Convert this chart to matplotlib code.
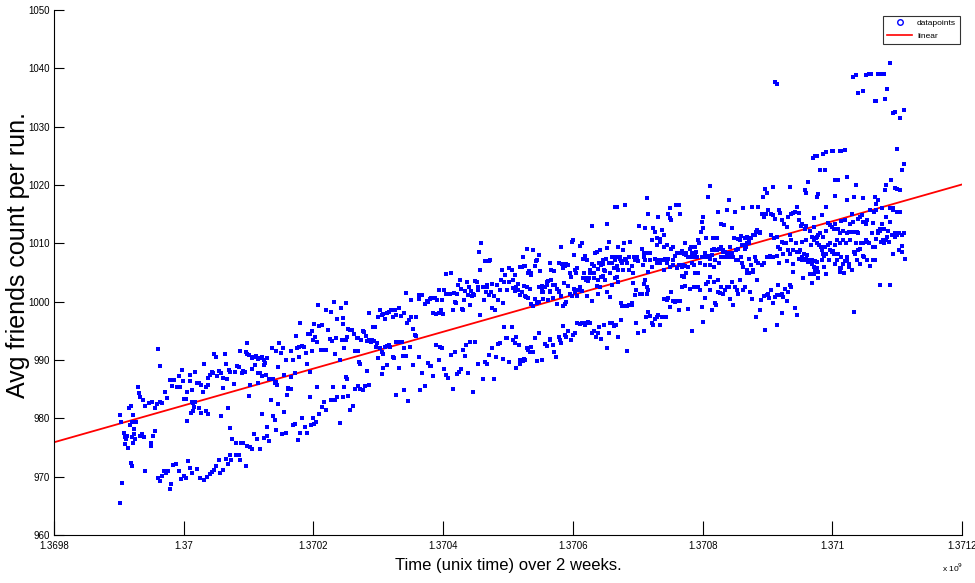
import numpy as np
import matplotlib
matplotlib.use("Agg")
import matplotlib.pyplot as plt
from matplotlib.lines import Line2D
from matplotlib.ticker import FixedLocator, FuncFormatter

# time is stored in kiloseconds after 1.3698e9 (unix time), values are avg friends count
T0 = 1.3698e9

# day 1-2 (1.36990e9 .. 1.37010e9)
seg1 = [(101, 980.5), (102, 965.5), (105, 968.9), (104, 979.4), (108, 977.5), (110, 976.8),
        (111, 976.5), (109, 975.6), (113, 976.9), (114, 975.0), (115, 981.8), (118, 982.2),
        (117, 978.8), (120, 979.3), (122, 980.6), (123, 978.2), (124, 977.4), (121, 976.8),
        (125, 976.5), (127, 979.4), (129, 985.3), (131, 984.4), (133, 983.6), (137, 983.2),
        (140, 982.2), (132, 977.0), (136, 977.3), (139, 976.8), (118, 972.3), (120, 971.8),
        (122, 975.7), (141, 970.9), (146, 982.6), (151, 982.8), (155, 981.7), (159, 982.5),
        (163, 982.8), (167, 982.7), (152, 977.0), (156, 977.9), (150, 975.3), (149, 975.7),
        (160, 991.9), (164, 988.9), (160, 969.7), (163, 969.2), (167, 970.1), (169, 971.0),
        (172, 970.6), (175, 971.0), (179, 967.9), (171, 984.6), (174, 983.5), (179, 986.6),
        (182, 985.6), (185, 986.6), (189, 985.4), (192, 987.2), (194, 985.3), (197, 988.3),
        (199, 986.4), (201, 983.4), (204, 983.3), (205, 984.5), (209, 987.5), (210, 986.4),
        (212, 984.9), (181, 968.8), (184, 972.0), (188, 972.2), (192, 970.9), (196, 969.6),
        (200, 970.2), (203, 969.8), (207, 972.7), (209, 971.5), (212, 970.7), (205, 979.5),
        (211, 981.0), (214, 981.3), (215, 982.6), (218, 982.8), (221, 986.1), (218, 988.0),
        (223, 986.1), (226, 985.7), (229, 984.5), (231, 989.3), (234, 985.3), (237, 986.9),
        (238, 985.7), (240, 987.4), (243, 988.0), (245, 987.8), (246, 991.0), (249, 990.5),
        (251, 987.3), (254, 988.2), (258, 987.8), (260, 986.9), (261, 985.2), (264, 991.0),
        (265, 989.3), (267, 986.7), (270, 988.3), (272, 987.9), (277, 985.9), (279, 988.0),
        (282, 989.0), (285, 988.8), (287, 991.6), (290, 987.7), (291, 988.2), (294, 988.0),
        (296, 991.3), (298, 991.0), (300, 990.9), (297, 993.0), (220, 971.4), (225, 969.7),
        (231, 969.5), (236, 970.0), (240, 970.4), (243, 970.8), (247, 971.1), (250, 971.9),
        (254, 972.8), (256, 970.6), (260, 971.1), (265, 973.1), (268, 972.2), (272, 973.7),
        (273, 972.9), (281, 973.8), (285, 973.7), (287, 972.8), (296, 971.9), (257, 980.4),
        (268, 981.7), (272, 978.3), (275, 976.4), (281, 975.7), (288, 975.7), (291, 975.7),
        (298, 975.3), (300, 983.9), (223, 981.7), (226, 980.9), (234, 981.3), (238, 980.7),
        (212, 982.8), (216, 982.0)]

# day 3-4
seg2 = [(305, 990.5), (306, 990.4), (310, 990.5), (312, 990.7), (314, 990.1), (318, 990.4),
        (320, 990.5), (323, 990.0), (324, 989.1), (325, 989.5), (328, 990.4), (306, 988.5),
        (310, 989.1), (314, 987.8), (318, 987.7), (320, 987.2), (327, 987.5), (315, 986.1),
        (302, 985.7), (332, 986.8), (336, 992.0), (338, 986.8), (340, 986.0), (342, 986.0),
        (343, 986.3), (342, 991.6), (345, 988.8), (347, 992.9), (350, 991.2), (353, 992.1),
        (355, 987.4), (357, 990.0), (360, 985.2), (364, 985.1), (365, 987.1), (366, 991.6),
        (369, 990.0), (372, 987.8), (373, 994.1), (374, 992.1), (377, 992.2), (378, 990.5),
        (380, 996.4), (383, 992.4), (386, 992.2), (389, 991.2), (390, 989.4), (392, 994.4),
        (394, 988.0), (395, 994.4), (397, 995.0), (398, 991.6), (400, 993.5), (401, 996.1),
        (402, 994.0), (406, 993.1), (407, 999.4), (409, 995.8), (413, 996.0), (412, 991.8),
        (415, 991.8), (418, 991.8), (419, 991.8), (420, 998.5), (423, 995.2), (425, 993.6),
        (427, 998.2), (428, 993.3), (431, 1000.0), (433, 991.1), (435, 993.7), (437, 997.1),
        (441, 990.0), (442, 999.0), (444, 993.5), (445, 997.2), (446, 996.1), (447, 992.1),
        (450, 999.8), (450, 993.4), (452, 994.0), (454, 995.4), (456, 995.2), (459, 995.2),
        (462, 994.5), (464, 991.6), (467, 993.7), (468, 991.6), (469, 993.8), (471, 989.7),
        (472, 989.4), (474, 993.5), (476, 995.0), (478, 994.8), (481, 994.1), (482, 993.3),
        (485, 993.5), (486, 998.0), (488, 993.1), (491, 993.4), (492, 995.7), (493, 993.3),
        (495, 995.7), (497, 992.2), (498, 992.9), (499, 990.3), (500, 997.4), (502, 998.6),
        (503, 992.0), (320, 980.7), (328, 978.5), (334, 983.2), (338, 980.4), (341, 979.7),
        (342, 978.0), (344, 985.7), (346, 982.5), (351, 977.4), (354, 981.1), (358, 977.5),
        (359, 984.0), (361, 985.1), (365, 985.1), (368, 978.8), (371, 979.0), (376, 976.3),
        (379, 977.5), (382, 980.0), (387, 978.5), (390, 977.5), (394, 983.6), (396, 978.8),
        (399, 980.1), (401, 979.1), (404, 979.4), (406, 985.3), (409, 980.8), (413, 982.0),
        (416, 982.8), (419, 981.4), (427, 983.2), (430, 985.3), (433, 983.2), (437, 983.7),
        (441, 979.2), (445, 983.7), (447, 985.4), (450, 987.1), (452, 986.8), (454, 983.8),
        (457, 981.5), (461, 982.1), (464, 985.1), (468, 985.5), (472, 985.1), (476, 984.8),
        (480, 985.5), (482, 988.1), (486, 985.7), (309, 977.3), (313, 976.4), (317, 974.8),
        (324, 976.7), (328, 977.0), (332, 976.1), (302, 975.1), (306, 974.8)]

# day 5-6
seg3 = [(505, 997.7), (508, 997.9), (510, 997.1), (514, 998.0), (517, 998.3), (519, 998.5),
        (522, 997.4), (526, 998.6), (528, 997.7), (532, 998.9), (535, 997.5), (539, 998.1),
        (543, 1001.5), (545, 996.4), (548, 996.9), (550, 1000.3), (551, 997.3), (554, 995.4),
        (558, 997.4), (562, 1000.4), (563, 1001.1), (565, 1001.1), (568, 1001.1), (572, 999.6),
        (575, 1000.1), (577, 1000.0), (579, 1000.5), (581, 1000.7), (584, 998.0), (585, 1000.6),
        (587, 1000.7), (589, 997.9), (590, 1000.3), (593, 998.1), (594, 1002.0), (596, 998.6),
        (598, 1000.3), (599, 997.9), (601, 1002.0), (604, 1001.4), (605, 1004.7), (608, 1001.3),
        (611, 1001.3), (612, 1004.9), (615, 998.6), (616, 1001.5), (618, 1000.0), (620, 999.8),
        (622, 1001.3), (623, 1002.9), (626, 1003.7), (627, 1002.2), (629, 998.7), (631, 998.6),
        (632, 1000.3), (634, 1001.9), (636, 1003.4), (639, 1001.1), (640, 1002.5), (641, 999.4),
        (643, 1001.9), (644, 1000.9), (646, 1001.4), (648, 1001.1), (649, 1003.6), (652, 1003.3),
        (653, 1002.6), (654, 1002.0), (656, 1008.6), (657, 1005.5), (659, 1010.1), (661, 1002.6),
        (663, 1000.3), (665, 1006.9), (666, 1001.7), (667, 1002.6), (668, 1002.9), (670, 1006.9),
        (671, 1001.1), (672, 1007.1), (673, 1001.7), (675, 998.9), (676, 1003.0), (678, 1001.0),
        (680, 998.5), (683, 1002.9), (685, 1000.3), (687, 1002.0), (689, 1003.7), (691, 1005.4),
        (692, 999.7), (694, 1003.4), (695, 1004.6), (698, 1002.0), (701, 1005.7), (702, 1003.4),
        (505, 991.3), (508, 991.0), (510, 992.3), (514, 992.4), (517, 992.6), (518, 992.3),
        (522, 990.6), (524, 990.3), (527, 993.1), (531, 993.1), (536, 993.1), (538, 990.7),
        (540, 992.0), (543, 990.7), (549, 992.3), (554, 989.1), (557, 994.3), (558, 994.1),
        (562, 990.6), (568, 987.8), (572, 985.5), (576, 989.5), (579, 988.9), (581, 988.9),
        (585, 987.3), (589, 992.6), (593, 990.0), (595, 992.3), (598, 992.1), (601, 988.4),
        (604, 987.4), (608, 986.9), (612, 990.9), (615, 985.1), (618, 991.3), (622, 987.6),
        (625, 988.0), (627, 988.4), (630, 991.7), (633, 990.7), (635, 992.6), (639, 987.8),
        (641, 993.1), (646, 984.6), (649, 993.1), (653, 989.4), (657, 997.7), (661, 986.7),
        (665, 989.7), (667, 989.4), (670, 990.9), (675, 992.0), (678, 986.7), (682, 990.6),
        (685, 992.7), (688, 992.9), (692, 990.1), (694, 995.6), (697, 993.7), (699, 993.7),
        (702, 989.7), (505, 987.6), (508, 988.6), (513, 989.1), (528, 984.0), (532, 988.6),
        (539, 984.9), (546, 982.9), (564, 984.9)]

# day 7-8
seg4 = [(706, 1005.4), (708, 1003.8), (711, 1004.6), (713, 1002.0), (716, 1002.0), (718, 1005.9),
        (721, 1005.9), (723, 1007.7), (725, 1006.1), (726, 1006.1), (728, 1000.8), (730, 1009.0),
        (731, 1004.9), (733, 1005.2), (735, 1004.6), (736, 1004.9), (739, 1008.8), (742, 1006.1),
        (743, 1006.9), (744, 1007.2), (747, 1008.0), (748, 1002.5), (750, 1005.2), (752, 1002.7),
        (753, 1002.0), (754, 1001.7), (757, 1002.5), (760, 1003.4), (762, 1003.6), (764, 1006.6),
        (765, 1001.9), (767, 1005.4), (769, 1002.9), (771, 1005.2), (772, 1002.9), (775, 1002.1),
        (778, 1006.6), (779, 1001.9), (781, 1009.3), (783, 1006.5), (785, 1005.7), (786, 1003.2),
        (788, 1006.1), (790, 1006.5), (793, 1006.3), (795, 1004.9), (797, 1004.3), (798, 1010.3),
        (800, 1010.6), (802, 1008.0), (803, 1005.4), (805, 1004.9), (807, 1005.7), (808, 1002.0),
        (811, 1009.6), (814, 1010.1), (815, 1007.3), (817, 1004.9), (819, 1007.8), (820, 1003.7),
        (821, 1004.0), (822, 1007.2), (824, 1003.6), (825, 1004.0), (826, 1005.4), (829, 1006.5),
        (830, 1013.0), (832, 1004.9), (833, 1006.1), (834, 1008.3), (837, 1008.6), (838, 1003.7),
        (839, 1005.6), (841, 1006.6), (842, 1008.9), (843, 1006.3), (844, 1004.3), (846, 1006.5),
        (847, 1007.2), (848, 1005.4), (850, 1005.2), (851, 1007.4), (852, 1013.3), (853, 1009.2),
        (855, 1010.3), (856, 1006.7), (857, 1004.9), (860, 1007.7), (861, 1006.6), (863, 1005.7),
        (865, 1007.2), (866, 1007.7), (868, 1006.1), (869, 1005.4), (870, 1009.3), (872, 1007.7),
        (873, 1007.4), (874, 1007.0), (875, 1006.6), (877, 1008.8), (878, 1005.4), (879, 1010.0),
        (880, 1007.4), (882, 1007.2), (883, 1006.7), (886, 1005.4), (887, 1007.7), (888, 1010.3),
        (891, 1006.1), (892, 1004.9), (894, 1007.7), (896, 1007.2), (897, 1007.2), (899, 1007.6),
        (901, 1007.0), (902, 1012.9), (865, 1016.3), (868, 1016.2), (880, 1016.5),
        (707, 1002.3), (711, 1001.9), (713, 1002.6), (716, 1003.0), (718, 1001.2), (721, 1001.6),
        (724, 1002.7), (726, 1000.9), (729, 1002.6), (731, 1000.6), (734, 1002.1), (736, 999.6),
        (739, 999.3), (742, 1000.4), (744, 999.7), (748, 1000.0), (752, 1001.6), (754, 1000.4),
        (760, 1002.9), (762, 1000.3), (765, 1001.7), (767, 1003.7), (770, 1000.6), (775, 999.6),
        (778, 1001.7), (781, 1000.9), (785, 999.2), (788, 999.6), (790, 1000.0), (793, 1002.7),
        (796, 1001.4), (798, 1000.9), (801, 1002.1), (803, 1001.6), (806, 1000.9), (811, 1002.6),
        (814, 1001.9), (816, 1004.0), (820, 1003.8), (822, 1000.9), (826, 1005.0), (829, 1000.2),
        (833, 1004.0), (837, 1002.7), (839, 1001.4), (842, 1002.6), (846, 1004.4), (850, 1003.7),
        (853, 1001.7), (857, 1000.8), (861, 1002.9), (865, 1004.0), (868, 1004.2), (870, 1003.4),
        (874, 999.7), (875, 999.3), (879, 999.3), (883, 999.2), (887, 999.4), (891, 999.7),
        (893, 1003.2), (896, 1001.2), (898, 1002.0),
        (706, 995.7), (708, 993.4), (711, 993.0), (713, 993.9), (717, 992.6), (718, 990.0),
        (723, 989.9), (725, 990.1), (726, 990.0), (729, 992.0), (731, 991.8), (734, 991.4),
        (736, 992.3), (739, 991.4), (742, 993.7), (744, 989.8), (748, 994.6), (752, 990.0),
        (757, 992.8), (760, 992.4), (764, 993.4), (765, 993.6), (769, 992.6), (771, 991.4),
        (774, 990.6), (778, 993.9), (780, 993.4), (781, 993.0), (785, 995.8), (788, 994.3),
        (790, 993.9), (793, 994.9), (797, 993.4), (800, 994.3), (803, 994.7), (807, 996.3),
        (811, 996.2), (814, 996.4), (816, 996.3), (819, 996.0), (821, 996.3), (824, 996.6),
        (826, 996.3), (829, 994.7), (832, 995.0), (836, 994.0), (838, 994.6), (841, 995.6),
        (844, 993.6), (848, 996.0), (852, 992.0), (855, 994.6), (857, 996.3), (861, 996.3),
        (863, 995.8), (866, 996.0), (870, 994.0), (874, 996.9), (880, 999.2), (884, 991.6),
        (891, 999.4), (898, 996.3), (901, 994.6), (713, 988.6), (718, 989.4)]

# day 9-11
seg5 = [(909, 1008.3), (911, 1012.6), (914, 1017.7), (916, 1015.1), (919, 1008.3), (922, 1010.6),
        (924, 1012.6), (927, 1012.0), (929, 1010.9), (930, 1009.7), (932, 1014.6), (934, 1010.3),
        (935, 1010.7), (937, 1012.3), (940, 1011.4), (941, 1009.4), (942, 1007.4), (944, 1007.1),
        (945, 1009.8), (947, 1015.1), (949, 1016.0), (950, 1014.3), (951, 1014.0), (952, 1009.0),
        (954, 1007.1), (955, 1009.4), (958, 1007.8), (959, 1016.6), (961, 1008.3), (963, 1016.6),
        (965, 1015.0), (966, 1008.3), (969, 1008.7), (971, 1008.2), (973, 1010.0), (974, 1008.3),
        (977, 1007.7), (980, 1009.1), (982, 1009.4), (983, 1008.3), (986, 1007.7), (988, 1009.4),
        (990, 1008.6), (991, 1007.7), (993, 1010.6), (995, 1010.1), (997, 1012.0), (999, 1013.7),
        (1000, 1014.6), (1001, 1012.6), (1004, 1008.3), (1006, 1011.0), (1009, 1018.0),
        (1011, 1019.8), (1012, 1007.4), (1014, 1008.0), (1016, 1011.0), (1018, 1009.0),
        (1020, 1008.9), (1022, 1011.0), (1024, 1015.4), (1026, 1009.1), (1028, 1009.4),
        (1029, 1013.4), (1031, 1008.6), (1033, 1013.1), (1035, 1008.6), (1037, 1015.7),
        (1038, 1008.0), (1040, 1017.4), (1041, 1008.4), (1043, 1009.4), (1045, 1012.6),
        (1046, 1008.3), (1048, 1011.0), (1050, 1015.4), (1052, 1008.9), (1054, 1009.1),
        (1055, 1010.7), (1057, 1010.6), (1059, 1011.3), (1060, 1009.7), (1062, 1016.0),
        (1064, 1009.7), (1065, 1010.9), (1067, 1009.4), (1068, 1010.1), (1069, 1011.1),
        (1071, 1010.7), (1072, 1010.0), (1074, 1010.9), (1076, 1016.3), (1077, 1011.4),
        (1081, 1011.4), (1082, 1012.0), (1084, 1012.3), (1086, 1016.2), (1088, 1012.0),
        (1089, 1011.8), (1091, 1015.0), (1093, 1018.0), (1095, 1014.6), (1096, 1019.3),
        (1098, 1015.1), (1100, 1018.7), (1101, 1015.7), (1103, 1007.7),
        (906, 1009.1), (908, 1006.3), (909, 1007.7), (911, 1007.1), (914, 1008.3), (916, 1005.1),
        (919, 1007.1), (922, 1005.9), (927, 1007.4), (930, 1006.6), (932, 1007.1), (935, 1006.6),
        (937, 1007.1), (940, 1005.4), (942, 1007.1), (945, 1006.6), (947, 1007.4), (950, 1006.0),
        (955, 1006.3), (960, 1005.7), (963, 1006.3), (965, 1008.3), (968, 1006.0), (969, 1004.4),
        (970, 1006.3), (973, 1006.1), (975, 1008.0), (978, 1006.0), (981, 1007.7), (983, 1006.6),
        (986, 1006.3), (988, 1007.8), (991, 1007.6), (993, 1004.9), (996, 1006.6), (999, 1007.7),
        (1004, 1006.3), (1005, 1007.7), (1009, 1007.8), (1011, 1006.3), (1014, 1008.9),
        (1017, 1006.0), (1019, 1007.1), (1022, 1008.9), (1026, 1006.6), (1029, 1007.7),
        (1032, 1008.9), (1035, 1007.7), (1040, 1007.7), (1042, 1008.3), (1045, 1008.0),
        (1047, 1007.7), (1052, 1007.1), (1055, 1007.1), (1059, 1007.7), (1060, 1006.6),
        (1063, 1006.0), (1065, 1009.1), (1068, 1005.4), (1071, 1007.4), (1074, 1006.3),
        (1078, 1005.4), (1082, 1006.9), (1086, 1006.7), (1091, 1006.3), (1094, 1006.6),
        (1099, 1007.7),
        (909, 1003.1), (911, 1003.7), (914, 1001.4), (916, 1002.0), (913, 997.4), (916, 998.3),
        (919, 997.5), (922, 996.3), (924, 996.0), (927, 997.0), (929, 997.4), (932, 997.7),
        (934, 996.0), (937, 997.4), (940, 1000.4), (942, 997.4), (944, 997.3), (945, 1000.3),
        (947, 1000.6), (950, 999.1), (952, 1001.7), (955, 1000.2), (958, 1000.0), (960, 1000.2),
        (963, 998.6), (965, 1000.2), (969, 1002.6), (971, 1004.3), (973, 1002.7), (975, 1004.9),
        (978, 998.7), (981, 1002.1), (983, 994.9), (986, 1002.6), (988, 1005.0), (991, 1002.6),
        (993, 1002.6), (996, 1002.0), (999, 999.1), (1001, 996.6), (1004, 1000.6), (1006, 1003.1),
        (1009, 1003.3), (1011, 1004.3), (1012, 1002.0), (1014, 998.6), (1017, 1003.4),
        (1019, 999.7), (1021, 999.4), (1023, 1003.7), (1024, 1001.7), (1027, 1001.5),
        (1029, 1002.6), (1032, 1001.4), (1035, 1002.0), (1037, 1002.5), (1040, 1002.6),
        (1042, 1000.4), (1045, 1003.4), (1047, 999.4), (1050, 1002.6), (1053, 1002.0),
        (1055, 1001.4), (1058, 1003.7), (1063, 1002.0), (1065, 1002.6), (1068, 1005.0),
        (1071, 1004.9), (1073, 1001.7), (1076, 1000.4), (1078, 1005.1), (1081, 1007.7),
        (1082, 997.4), (1084, 1003.7), (1088, 998.6), (1090, 1000.3), (1094, 1000.9),
        (1096, 995.1), (1099, 1001.1), (1101, 1001.4), (1103, 1000.6), (904, 1001.4),
        (906, 1001.4), (914, 1002.6), (909, 994.9)]

# day 12-14, including the high runs near the end
seg6 = [(1112, 1037.6), (1114, 1037.4), (1232, 1038.6), (1237, 1038.8), (1252, 1038.8),
        (1256, 1039.1), (1259, 1039.0), (1271, 1039.0), (1275, 1039.0), (1279, 1039.0),
        (1289, 1041.0), (1240, 1035.8), (1247, 1036.1), (1266, 1034.4), (1268, 1034.4),
        (1282, 1034.8), (1285, 1036.5), (1293, 1032.4), (1297, 1032.5), (1304, 1031.5),
        (1311, 1032.8), (1300, 1026.2), (1311, 1023.6), (1308, 1022.5), (1290, 1020.9),
        (1283, 1020.0), (1297, 1019.5), (1300, 1019.4), (1304, 1019.2), (1300, 1015.4),
        (1304, 1015.4),
        (1170, 1024.6), (1173, 1024.9), (1177, 1025.0), (1185, 1025.3), (1191, 1025.6),
        (1199, 1025.8), (1201, 1025.8), (1212, 1025.8), (1214, 1025.8), (1220, 1026.0),
        (1181, 1022.5), (1188, 1022.6), (1204, 1020.9), (1208, 1020.8), (1222, 1021.3),
        (1237, 1020.0),
        (1108, 1019.7), (1134, 1019.7), (1158, 1019.1), (1159, 1018.6), (1163, 1020.5),
        (1176, 1018.0), (1178, 1018.4), (1191, 1016.2), (1204, 1018.1), (1223, 1017.5),
        (1233, 1018.0), (1248, 1017.8), (1266, 1018.0), (1268, 1016.8), (1271, 1017.4),
        (1276, 1016.0), (1281, 1019.1), (1289, 1016.1), (1293, 1016.0),
        (1106, 1015.1), (1109, 1014.9), (1112, 1014.2), (1118, 1015.8), (1120, 1015.2),
        (1123, 1014.0), (1126, 1013.4), (1130, 1012.8), (1132, 1014.5), (1137, 1015.0),
        (1140, 1015.2), (1142, 1015.4), (1145, 1016.2), (1148, 1015.2), (1149, 1014.0),
        (1151, 1012.9), (1154, 1013.4), (1158, 1012.5), (1160, 1012.9), (1166, 1012.1),
        (1168, 1011.1), (1171, 1014.4), (1172, 1012.8), (1175, 1011.0), (1178, 1011.4),
        (1181, 1011.8), (1184, 1014.8), (1186, 1011.1), (1190, 1012.1), (1194, 1013.5),
        (1196, 1013.1), (1199, 1012.8), (1202, 1012.5), (1204, 1013.4), (1208, 1012.5),
        (1212, 1011.8), (1214, 1013.8), (1217, 1012.2), (1220, 1014.0), (1222, 1011.8),
        (1225, 1012.0), (1227, 1013.3), (1230, 1015.1), (1232, 1013.7), (1235, 1012.0),
        (1238, 1012.0), (1240, 1014.2), (1243, 1014.5), (1245, 1014.8), (1248, 1013.7),
        (1252, 1013.4), (1254, 1014.0), (1258, 1015.7), (1262, 1013.5), (1264, 1015.4),
        (1267, 1015.7), (1271, 1012.2), (1274, 1012.5), (1276, 1013.4), (1279, 1012.4),
        (1283, 1014.5), (1286, 1012.2), (1289, 1013.7), (1293, 1015.7), (1297, 1011.8),
        (1299, 1015.4), (1303, 1011.8), (1307, 1011.4),
        (1106, 1011.5), (1110, 1011.0), (1114, 1011.1), (1117, 1009.4), (1119, 1009.1),
        (1122, 1010.2), (1126, 1010.0), (1129, 1010.0), (1131, 1008.8), (1134, 1011.4),
        (1137, 1010.5), (1140, 1008.9), (1144, 1010.0), (1148, 1008.5), (1150, 1008.8),
        (1153, 1007.7), (1154, 1010.2), (1156, 1008.2), (1159, 1010.5), (1161, 1008.0),
        (1165, 1007.1), (1167, 1009.7), (1168, 1006.5), (1171, 1010.5), (1173, 1007.0),
        (1176, 1011.1), (1177, 1010.1), (1180, 1009.7), (1182, 1009.4), (1184, 1008.8),
        (1185, 1008.2), (1187, 1007.8), (1189, 1009.4), (1191, 1008.2), (1194, 1009.7),
        (1196, 1010.0), (1197, 1008.8), (1201, 1008.7), (1203, 1008.2), (1204, 1009.7),
        (1207, 1010.5), (1209, 1008.1), (1212, 1010.0), (1214, 1007.7), (1216, 1010.6),
        (1220, 1007.0), (1221, 1010.0), (1223, 1007.7), (1226, 1006.0), (1228, 1010.5),
        (1230, 1012.0), (1233, 1008.5), (1237, 1010.0), (1239, 1011.8), (1242, 1009.1),
        (1244, 1010.0), (1247, 1010.1), (1249, 1007.7), (1252, 1010.6), (1254, 1010.2),
        (1257, 1010.1), (1261, 1011.7), (1263, 1009.4), (1266, 1009.3), (1268, 1010.8),
        (1271, 1011.8), (1273, 1012.2), (1275, 1010.2), (1278, 1010.5), (1280, 1010.0),
        (1283, 1010.6), (1285, 1011.1), (1288, 1010.2), (1292, 1011.4), (1294, 1008.2),
        (1297, 1011.1), (1299, 1011.4), (1303, 1008.8), (1307, 1009.5), (1308, 1008.5),
        (1311, 1011.7), (1312, 1007.4),
        (1104, 1007.8), (1109, 1007.7), (1114, 1007.8), (1118, 1006.6), (1124, 1008.1),
        (1130, 1007.0), (1135, 1008.2), (1140, 1006.5), (1145, 1008.5), (1149, 1007.4),
        (1153, 1007.1), (1156, 1007.2), (1160, 1007.4), (1163, 1006.8), (1168, 1007.1),
        (1171, 1006.0), (1176, 1006.8), (1178, 1005.1), (1184, 1007.1), (1187, 1006.0),
        (1191, 1004.8), (1195, 1007.2), (1199, 1008.5), (1204, 1006.5), (1207, 1007.1),
        (1212, 1005.7), (1216, 1006.5), (1218, 1004.9), (1222, 1007.0), (1226, 1006.5),
        (1230, 1005.4), (1235, 1008.2), (1238, 1007.2), (1240, 1008.8), (1243, 1006.5),
        (1248, 1007.8), (1253, 1007.1), (1258, 1006.1), (1263, 1007.1), (1266, 1007.1),
        (1106, 1002.0), (1108, 999.7), (1112, 1000.8), (1114, 1001.1), (1117, 1002.8),
        (1118, 1001.1), (1122, 1001.4), (1124, 1000.8), (1127, 1002.1), (1130, 1000.2),
        (1132, 1001.7), (1134, 1002.8), (1137, 1002.6), (1140, 1005.1), (1142, 999.0),
        (1146, 997.7), (1155, 1004.0), (1166, 1004.8), (1168, 1003.2), (1171, 1004.7),
        (1173, 1005.5), (1176, 1005.7), (1178, 1004.0), (1212, 1005.1), (1214, 1005.7),
        (1233, 998.2), (1274, 1002.8), (1289, 1002.8), (1114, 996.0), (1122, 998.1)]

# linear fit (value at 1.3698e9 and slope per ks)
fit_start = 975.9
fit_slope = 0.03157

xticks = [1.3698e9, 1.37e9, 1.3702e9, 1.3704e9, 1.3706e9, 1.3708e9, 1.371e9, 1.3712e9]
yticks = [960, 970, 980, 990, 1000, 1010, 1020, 1030, 1040, 1050]

pts = np.array(seg1 + seg2 + seg3 + seg4 + seg5 + seg6)
t = T0 + pts[:, 0] * 1e3
avg = pts[:, 1]

sans = ['Liberation Sans', 'DejaVu Sans']

fig = plt.figure(figsize=(9.75, 5.83), dpi=100)
ax = fig.add_axes([0.0554, 0.0823, 0.9313, 0.9005])

ax.plot(t, avg, 's', color='#0000ff', markersize=2.3, markeredgewidth=0, zorder=3)
xl = np.array([xticks[0], xticks[-1]])
ax.plot(xl, fit_start + fit_slope * (xl - T0) / 1e3, color='#ff0000', linewidth=1.3, zorder=2)

ax.set_xlim(xticks[0], xticks[-1])
ax.set_ylim(960, 1050)
ax.xaxis.set_major_locator(FixedLocator(xticks))
ax.yaxis.set_major_locator(FixedLocator(yticks))
ax.xaxis.set_major_formatter(FuncFormatter(lambda v, p: '%g' % round(v / 1e9, 4)))
ax.spines['top'].set_visible(False)
ax.spines['right'].set_visible(False)
ax.tick_params(axis='x', direction='in', length=10, width=0.8, pad=4)
ax.tick_params(axis='y', direction='in', length=7, width=0.8, pad=3)
for lab in ax.get_xticklabels() + ax.get_yticklabels():
    lab.set_family(sans)
    lab.set_fontsize(7)

ax.set_xlabel('Time (unix time) over 2 weeks.', family=sans, fontsize=12)
ax.xaxis.set_label_coords(0.5, -0.044)
ax.set_ylabel('Avg friends count per run.', family=sans, fontsize=18)
ax.yaxis.set_label_coords(-0.026, 0.533)
ax.text(0.99, -0.062, r'x 10$^{9}$', transform=ax.transAxes, family=sans, fontsize=6,
        ha='center', va='center')

handles = [Line2D([], [], marker='o', linestyle='none', markerfacecolor='none',
                  markeredgecolor='#0000ff', markersize=4),
           Line2D([], [], color='#ff0000', linewidth=1.2)]
leg = ax.legend(handles, ['datapoints', 'linear'], loc='upper right', bbox_to_anchor=(0.9975, 0.989),
                borderaxespad=0, prop={'family': sans, 'size': 6}, frameon=True, fancybox=False,
                edgecolor='black', borderpad=0.45, handlelength=3.0, labelspacing=0.55,
                handletextpad=0.6)
leg.get_frame().set_linewidth(0.8)

fig.savefig('out.png', dpi=100)
